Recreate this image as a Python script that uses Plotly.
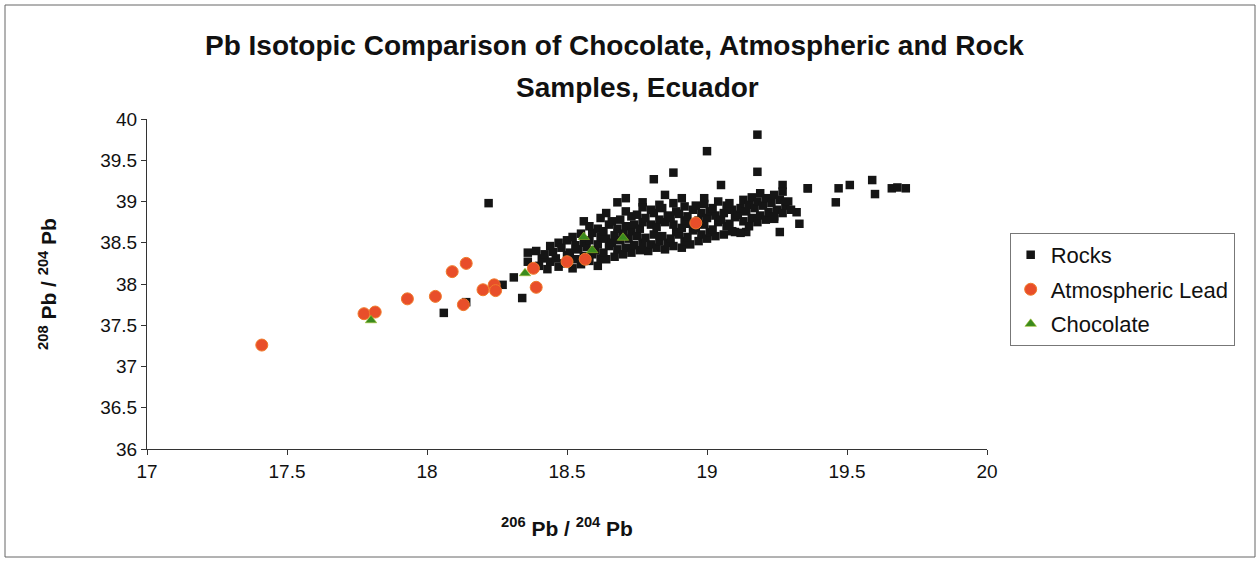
import plotly.graph_objects as go

# ---------------- data ----------------
rock_x = [
    18.06, 18.14, 18.22, 18.27, 18.31, 18.34, 18.36, 18.36,
    18.81, 18.88, 19.00, 19.18, 19.18, 19.36, 19.47, 19.51, 19.59, 19.60,
    19.46, 19.66, 19.68, 19.71, 19.32, 19.33, 19.26, 19.24, 18.71, 18.68,
    18.77, 19.05, 18.85, 18.91, 18.99, 19.10, 19.14, 19.27, 19.36,
    18.40, 18.41, 18.39,
    18.43, 18.44, 18.42, 18.44,
    18.47, 18.46, 18.45, 18.47,
    18.49, 18.50, 18.48, 18.50,
    18.52, 18.53, 18.51, 18.53, 18.52,
    18.55, 18.56, 18.54, 18.56, 18.55, 18.56,
    18.58, 18.59, 18.57, 18.58, 18.59, 18.58,
    18.61, 18.62, 18.60, 18.61, 18.62, 18.61, 18.62,
    18.64, 18.63, 18.65, 18.64, 18.63, 18.65, 18.64,
    18.67, 18.68, 18.66, 18.67, 18.68, 18.66,
    18.70, 18.71, 18.69, 18.70, 18.71, 18.69, 18.71,
    18.73, 18.74, 18.72, 18.73, 18.74, 18.73,
    18.76, 18.77, 18.75, 18.76, 18.77, 18.75, 18.77,
    18.79, 18.80, 18.78, 18.80, 18.78, 18.80,
    18.82, 18.83, 18.81, 18.82, 18.83, 18.81, 18.83,
    18.85, 18.86, 18.84, 18.85, 18.86, 18.84,
    18.88, 18.87, 18.89, 18.88, 18.87, 18.89, 18.88,
    18.91, 18.92, 18.90, 18.91, 18.92, 18.90, 18.92,
    18.94, 18.93, 18.95, 18.94, 18.93, 18.95,
    18.97, 18.98, 18.96, 18.97, 18.98, 18.96,
    19.00, 19.01, 18.99, 19.00, 19.01, 18.99,
    19.03, 19.02, 19.04, 19.03, 19.02, 19.04,
    19.06, 19.07, 19.05, 19.06, 19.07,
    19.09, 19.08, 19.10, 19.09, 19.08,
    19.12, 19.13, 19.11, 19.12, 19.13,
    19.15, 19.16, 19.14, 19.15, 19.16,
    19.18, 19.19, 19.17, 19.18, 19.19,
    19.21, 19.22, 19.20, 19.21,
    19.24, 19.25, 19.23, 19.24,
    19.27, 19.28, 19.26, 19.27,
    19.30, 19.29,
]
rock_y = [
    37.65, 37.78, 38.98, 37.99, 38.08, 37.83, 38.38, 38.27,
    39.27, 39.35, 39.61, 39.81, 39.36, 39.16, 39.16, 39.20, 39.26, 39.09,
    38.99, 39.16, 39.17, 39.16, 38.87, 38.73, 38.63, 38.79, 39.04, 38.99,
    38.99, 39.20, 39.08, 39.04, 39.04, 38.63, 38.63, 39.20, 39.16,
    38.22, 38.31, 38.40,
    38.18, 38.27, 38.36, 38.46,
    38.21, 38.31, 38.39, 38.50,
    38.25, 38.35, 38.44, 38.53,
    38.19, 38.30, 38.38, 38.47, 38.57,
    38.24, 38.34, 38.42, 38.50, 38.61, 38.76,
    38.28, 38.36, 38.45, 38.53, 38.62, 38.70,
    38.22, 38.31, 38.41, 38.48, 38.57, 38.67, 38.80,
    38.30, 38.38, 38.46, 38.55, 38.64, 38.72, 38.86,
    38.33, 38.42, 38.50, 38.59, 38.67, 38.76,
    38.36, 38.44, 38.53, 38.61, 38.70, 38.78, 38.88,
    38.38, 38.47, 38.55, 38.64, 38.72, 38.82,
    38.41, 38.50, 38.58, 38.67, 38.75, 38.84, 38.93,
    38.40, 38.48, 38.56, 38.72, 38.80, 38.90,
    38.44, 38.52, 38.60, 38.69, 38.78, 38.86, 38.96,
    38.42, 38.50, 38.58, 38.75, 38.83, 38.92,
    38.46, 38.55, 38.63, 38.72, 38.80, 38.88, 38.98,
    38.44, 38.52, 38.60, 38.68, 38.77, 38.85, 38.94,
    38.48, 38.57, 38.65, 38.73, 38.82, 38.90,
    38.52, 38.60, 38.68, 38.77, 38.86, 38.95,
    38.55, 38.63, 38.72, 38.80, 38.88, 38.97,
    38.58, 38.66, 38.75, 38.83, 38.92, 39.00,
    38.60, 38.70, 38.78, 38.86, 38.95,
    38.64, 38.73, 38.81, 38.90, 38.98,
    38.62, 38.76, 38.84, 38.92, 39.02,
    38.70, 38.80, 38.88, 38.96, 39.05,
    38.75, 38.83, 38.92, 39.00, 39.10,
    38.78, 38.87, 38.95, 39.04,
    38.82, 38.90, 38.98, 39.08,
    38.86, 38.95, 39.02, 39.12,
    38.90, 39.00,
]

atm_x = [17.41, 17.775, 17.815, 17.93, 18.03, 18.09, 18.14, 18.13,
         18.20, 18.24, 18.245, 18.38, 18.39, 18.50, 18.565, 18.96]
atm_y = [37.26, 37.64, 37.66, 37.82, 37.85, 38.15, 38.25, 37.75,
         37.93, 37.99, 37.92, 38.19, 37.96, 38.27, 38.30, 38.74]

choc_x = [17.80, 18.35, 18.56, 18.59, 18.70]
choc_y = [37.56, 38.13, 38.57, 38.41, 38.56]

x_ticks = [17, 17.5, 18, 18.5, 19, 19.5, 20]
y_ticks = [36, 36.5, 37, 37.5, 38, 38.5, 39, 39.5, 40]

FONT = "Arial, Liberation Sans, sans-serif"

fig = go.Figure()
fig.add_trace(go.Scatter(
    x=rock_x, y=rock_y, mode="markers", name="Rocks", legendgroup="a",
    marker=dict(symbol="square", size=8.5, color="#151515"),
))
fig.add_trace(go.Scatter(
    x=atm_x, y=atm_y, mode="markers", name="Atmospheric Lead", legendgroup="b",
    marker=dict(symbol="circle", size=12, color="#E84E2A",
                line=dict(color="#F07A2A", width=1)),
))
fig.add_trace(go.Scatter(
    x=choc_x, y=choc_y, mode="markers", name="Chocolate", legendgroup="c",
    marker=dict(symbol="triangle-up", size=10, color="#3A8A1E",
                line=dict(color="#9FBF2A", width=0.6)),
))

fig.update_layout(
    width=1259, height=562,
    margin=dict(l=147, r=272, t=119, b=113),
    paper_bgcolor="white", plot_bgcolor="white",
    font=dict(family=FONT, color="#111", size=18),
    showlegend=True,
    legend=dict(
        x=1.027, y=0.655, xanchor="left", yanchor="top",
        bordercolor="#777", borderwidth=1, bgcolor="white",
        font=dict(size=22, family=FONT, color="#111"),
        tracegroupgap=3,
    ),
    xaxis=dict(
        range=[17, 20], tickvals=x_ticks, ticktext=[f"{v:g}" for v in x_ticks],
        showgrid=False, zeroline=False, showline=True, linecolor="#333", linewidth=1,
        ticks="outside", ticklen=5, tickcolor="#333",
        tickfont=dict(size=19, family=FONT),
        title=dict(text="<b><sup>206</sup> Pb / <sup>204</sup> Pb</b>",
                   font=dict(size=21, family=FONT), standoff=40),
    ),
    yaxis=dict(
        range=[36, 40], tickvals=y_ticks, ticktext=[f"{v:g}" for v in y_ticks],
        showgrid=False, zeroline=False, showline=True, linecolor="#333", linewidth=1,
        ticks="outside", ticklen=5, tickcolor="#333",
        tickfont=dict(size=19, family=FONT),
        title=dict(text="<b><sup>208</sup> Pb / <sup>204</sup> Pb</b>",
                   font=dict(size=21, family=FONT), standoff=37),
    ),
    annotations=[
        dict(text="<b>Pb Isotopic Comparison of Chocolate, Atmospheric and Rock</b>",
             xref="paper", yref="paper", x=(614 - 147) / 840, y=(449 - 45) / 330,
             xanchor="center", yanchor="middle", showarrow=False,
             font=dict(size=28, family=FONT, color="#111")),
        dict(text="<b>Samples, Ecuador</b>",
             xref="paper", yref="paper", x=(637 - 147) / 840, y=(449 - 88) / 330,
             xanchor="center", yanchor="middle", showarrow=False,
             font=dict(size=28, family=FONT, color="#111")),
    ],
    shapes=[
        dict(type="rect", xref="paper", yref="paper",
             x0=(5 - 147) / 840, x1=(1255 - 147) / 840,
             y0=(449 - 557) / 330, y1=(449 - 5) / 330,
             line=dict(color="#666", width=1), fillcolor="rgba(0,0,0,0)", layer="below"),
    ],
)

fig.write_html("out.html")
